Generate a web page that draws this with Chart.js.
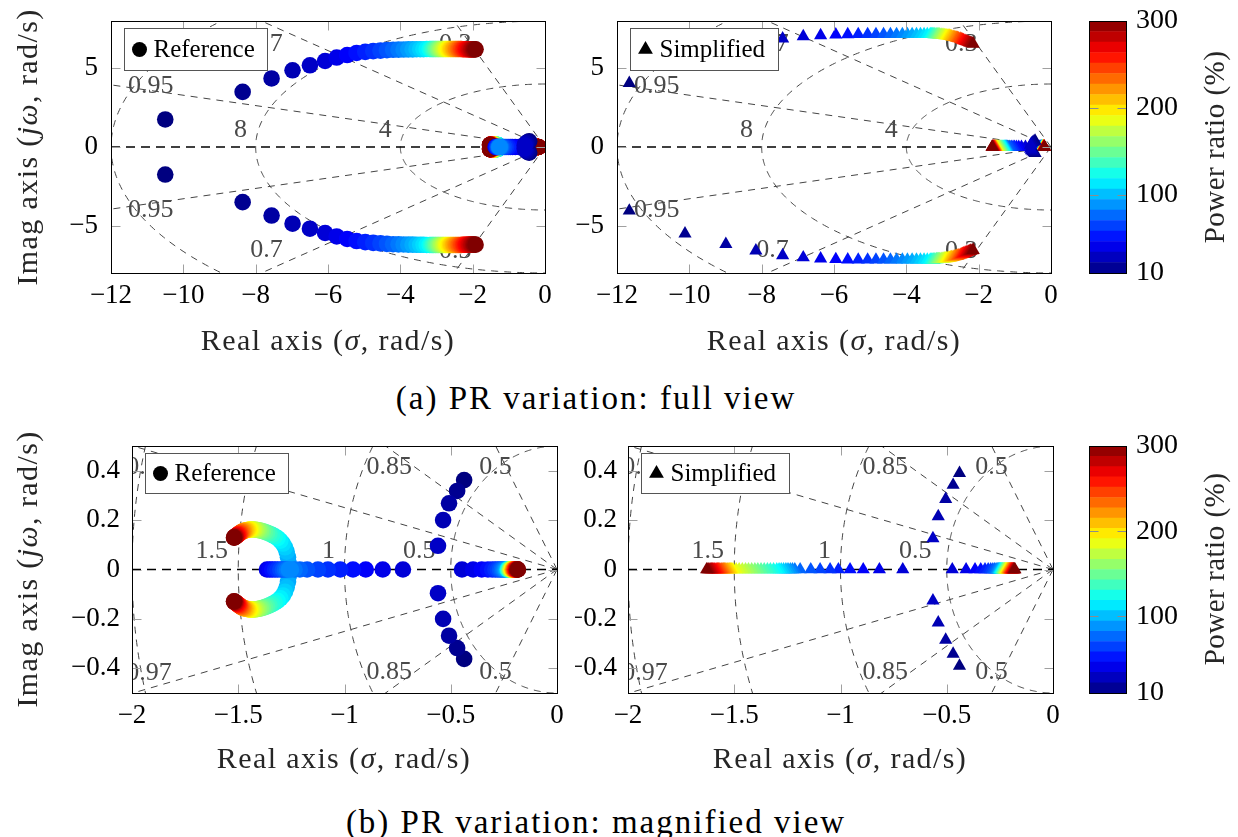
<!DOCTYPE html>
<html>
<head>
<meta charset="utf-8">
<title>PR variation pole map</title>
<script src="https://cdn.jsdelivr.net/npm/chart.js@4/dist/chart.umd.min.js"></script>
<style>
  html, body { margin: 0; padding: 0; background: #fff; }
  #page { position: relative; width: 1238px; height: 837px; overflow: hidden; font-family: "Liberation Serif", "DejaVu Serif", "Noto Serif", "Times New Roman", Times, serif; }
  #page canvas { position: absolute; }
  .txt { position: absolute; white-space: nowrap; transform: translate(-50%, -50%); color: #262626; font-size: 30px; letter-spacing: 1.4px; line-height: 1; }
  .vert { transform: translate(-50%, -50%) rotate(-90deg); }
  .cb { font-size: 29px; letter-spacing: 0.5px; }
  .cap { color: #000; font-size: 33px; letter-spacing: 2px; }
</style>
</head>
<body>
<div id="page">
  <canvas id="refFull"></canvas>
  <canvas id="simFull"></canvas>
  <canvas id="barFull"></canvas>
  <canvas id="refZoom"></canvas>
  <canvas id="simZoom"></canvas>
  <canvas id="barZoom"></canvas>

  <div class="txt vert" style="left:27px;top:147px">Imag axis (<i>jω</i>, rad/s)</div>
  <div class="txt vert" style="left:27px;top:569px">Imag axis (<i>jω</i>, rad/s)</div>
  <div class="txt" style="left:328px;top:340px">Real axis (<i>σ</i>, rad/s)</div>
  <div class="txt" style="left:834px;top:340px">Real axis (<i>σ</i>, rad/s)</div>
  <div class="txt" style="left:344px;top:758px">Real axis (<i>σ</i>, rad/s)</div>
  <div class="txt" style="left:840px;top:758px">Real axis (<i>σ</i>, rad/s)</div>
  <div class="txt vert cb" style="left:1214px;top:147px">Power ratio (%)</div>
  <div class="txt vert cb" style="left:1214px;top:569px">Power ratio (%)</div>
  <div class="txt cap" style="left:596px;top:398px">(a) PR variation: full view</div>
  <div class="txt cap" style="left:596px;top:822px">(b) PR variation: magnified view</div>
</div>
<script>
// power ratio sweep (%), one pole set per value
const powerRatio = [10, 15, 20, 25, 30, 35, 40, 45, 50, 55, 60, 65, 70, 75, 80, 85, 90, 95, 100, 105,
  110, 115, 120, 125, 130, 135, 140, 145, 150, 155, 160, 165, 170, 175, 180, 185, 190, 195, 200, 205,
  210, 215, 220, 225, 230, 235, 240, 245, 250, 255, 260, 265, 270, 275, 280, 285, 290, 295, 300];

const colorTicks = [10, 100, 200, 300];
const fullXTicks = [-12, -10, -8, -6, -4, -2, 0];
const fullYTicks = [-5, 0, 5];
const zoomXTicks = [-2, -1.5, -1, -0.5, 0];
const zoomYTicks = [-0.4, -0.2, 0, 0.2, 0.4];

// reference model: upper half of each complex pair (lower half is the conjugate)
const refFarRe = [-10.5, -8.36, -7.56, -6.98, -6.5, -6.08, -5.76, -5.47, -5.21, -4.97, -4.75, -4.55, -4.37, -4.2, -4.05,
  -3.91, -3.78, -3.66, -3.55, -3.45, -3.36, -3.27, -3.19, -3.15, -3.11, -3.08, -3.04, -3.01, -2.97, -2.94, -2.9,
  -2.87, -2.83, -2.8, -2.76, -2.73, -2.69, -2.66, -2.62, -2.59, -2.55, -2.52, -2.48, -2.45, -2.41, -2.38, -2.34,
  -2.31, -2.27, -2.24, -2.2, -2.17, -2.13, -2.1, -2.06, -2.03, -1.99, -1.96, -1.92];
const refFarIm = [1.75, 3.5, 4.35, 4.87, 5.19, 5.46, 5.68, 5.84, 5.97, 6.04, 6.09, 6.12, 6.15, 6.17, 6.18, 6.19,
  6.2, 6.2, 6.21, 6.21, 6.21, 6.22, 6.22, 6.22, 6.22, 6.22, 6.22, 6.22, 6.22, 6.22, 6.22, 6.22, 6.22, 6.22, 6.22,
  6.22, 6.22, 6.22, 6.22, 6.22, 6.22, 6.22, 6.22, 6.22, 6.22, 6.22, 6.22, 6.22, 6.21, 6.21, 6.21, 6.21, 6.21,
  6.2, 6.2, 6.2, 6.2, 6.2, 6.2];
const refLoopRe = [-0.437, -0.47, -0.508, -0.536, -0.56];
const refLoopIm = [0.362, 0.318, 0.268, 0.2, 0.096];
const refArcRe = [-1.262, -1.266, -1.272, -1.28, -1.29, -1.302, -1.315, -1.328, -1.341, -1.353, -1.364, -1.374,
  -1.384, -1.393, -1.402, -1.41, -1.418, -1.425, -1.432, -1.439, -1.445, -1.451, -1.457, -1.462, -1.467, -1.472,
  -1.476, -1.48, -1.484, -1.488, -1.491, -1.494, -1.497, -1.5, -1.503, -1.506, -1.509, -1.511, -1.513, -1.515,
  -1.517, -1.519, -1.52];
const refArcIm = [0.025, 0.05, 0.072, 0.09, 0.105, 0.117, 0.127, 0.134, 0.14, 0.145, 0.149, 0.152, 0.155, 0.157,
  0.159, 0.16, 0.161, 0.162, 0.162, 0.162, 0.162, 0.161, 0.16, 0.159, 0.158, 0.157, 0.155, 0.154, 0.152, 0.15,
  0.148, 0.146, 0.144, 0.142, 0.14, 0.138, 0.136, 0.135, 0.133, 0.132, 0.131, 0.13, 0.129];
// reference model: real poles
const refOuterRe = [-1.365, -1.352, -1.34, -1.327, -1.315, -1.302, -1.29, -1.28, -1.27, -1.262];
const refLeftRe = [-0.725, -0.82, -0.9, -0.96, -1.02, -1.078, -1.125, -1.176, -1.21, -1.235, -1.252];
const refRightRe = [-0.447, -0.395, -0.354, -0.325, -0.305, -0.29, -0.278, -0.268, -0.26, -0.253, -0.247, -0.242,
  -0.238, -0.234, -0.233, -0.232, -0.23, -0.229, -0.228, -0.227, -0.225, -0.224, -0.223, -0.222, -0.22, -0.219,
  -0.218, -0.217, -0.215, -0.214, -0.213, -0.212, -0.21, -0.209, -0.208, -0.207, -0.205, -0.204, -0.203, -0.202,
  -0.2, -0.199, -0.198, -0.197, -0.195, -0.194, -0.193, -0.192, -0.19, -0.189, -0.188, -0.187, -0.185, -0.184];

// simplified model
const simFarRe = [-11.66, -10.12, -8.99, -8.16, -7.42, -6.85, -6.37, -5.95, -5.62, -5.33, -5.07, -4.84, -4.63,
  -4.44, -4.27, -4.11, -3.97, -3.84, -3.72, -3.61, -3.51, -3.42, -3.34, -3.31, -3.27, -3.24, -3.21, -3.17, -3.14,
  -3.11, -3.08, -3.04, -3.01, -2.98, -2.94, -2.91, -2.88, -2.84, -2.81, -2.78, -2.75, -2.71, -2.68, -2.65, -2.61,
  -2.58, -2.55, -2.51, -2.48, -2.45, -2.42, -2.38, -2.35, -2.32, -2.28, -2.25, -2.22, -2.18, -2.15];
const simFarIm = [4.05, 5.5, 6.17, 6.58, 6.88, 7.02, 7.09, 7.13, 7.15, 7.16, 7.16, 7.16, 7.16, 7.16, 7.16, 7.16,
  7.16, 7.16, 7.16, 7.16, 7.16, 7.16, 7.16, 7.16, 7.16, 7.15, 7.15, 7.14, 7.14, 7.13, 7.13, 7.12, 7.11, 7.1, 7.09,
  7.08, 7.07, 7.06, 7.05, 7.03, 7.01, 6.99, 6.97, 6.95, 6.93, 6.91, 6.89, 6.86, 6.83, 6.8, 6.77, 6.74, 6.71, 6.68,
  6.65, 6.62, 6.6, 6.57, 6.55];
const simLoopRe = [-0.44, -0.47, -0.505, -0.54, -0.565];
const simLoopIm = [0.39, 0.342, 0.285, 0.215, 0.126];
const simRightRe = [-0.474, -0.409, -0.367, -0.34, -0.32, -0.305, -0.293, -0.283, -0.275, -0.268, -0.263, -0.259,
  -0.256, -0.253, -0.251, -0.249, -0.247, -0.245, -0.243, -0.241, -0.239, -0.238, -0.236, -0.234, -0.232, -0.23,
  -0.229, -0.227, -0.225, -0.223, -0.221, -0.22, -0.218, -0.216, -0.214, -0.212, -0.211, -0.209, -0.207, -0.205,
  -0.203, -0.202, -0.2, -0.198, -0.196, -0.194, -0.193, -0.191, -0.189, -0.187, -0.185, -0.184, -0.182, -0.179];
const simLeftRe = [-0.707, -0.817, -0.893, -0.955, -1.01, -1.049, -1.096, -1.14, -1.19, -1.215, -1.226, -1.236,
  -1.247, -1.257, -1.268, -1.279, -1.289, -1.3, -1.315, -1.33, -1.344, -1.359, -1.374, -1.389, -1.403, -1.418,
  -1.433, -1.447, -1.462, -1.477, -1.491, -1.506, -1.512, -1.517, -1.523, -1.529, -1.534, -1.54, -1.546, -1.551,
  -1.557, -1.562, -1.568, -1.574, -1.579, -1.585, -1.591, -1.596, -1.602, -1.607, -1.613, -1.619, -1.624, -1.63];

const serif = '"Liberation Serif", "DejaVu Serif", "Noto Serif", "Times New Roman", Times, serif';
Chart.defaults.font.family = serif;

function jet(pr) {
  const t = (pr - colorTicks[0]) / (colorTicks[colorTicks.length - 1] - colorTicks[0]);
  const c = (v) => Math.round(255 * Math.min(1, Math.max(0, v)));
  return `rgb(${c(1.5 - Math.abs(4 * t - 3))},${c(1.5 - Math.abs(4 * t - 2))},${c(1.5 - Math.abs(4 * t - 1))})`;
}

// points of one root-locus branch, starting at the given power ratio
function branch(fromPr, re, im, sign) {
  const i0 = powerRatio.indexOf(fromPr);
  return re.map((r, k) => ({ pr: powerRatio[i0 + k], x: r, y: im ? sign * im[k] : 0 }));
}

const refBranches = [
  branch(10, refFarRe, refFarIm, 1), branch(10, refFarRe, refFarIm, -1),
  branch(10, refLoopRe, refLoopIm, 1), branch(10, refLoopRe, refLoopIm, -1),
  branch(40, refOuterRe), branch(35, refLeftRe),
  branch(90, refArcRe, refArcIm, 1), branch(90, refArcRe, refArcIm, -1),
  branch(35, refRightRe),
];
const simBranches = [
  branch(10, simFarRe, simFarIm, 1), branch(10, simFarRe, simFarIm, -1),
  branch(10, simLoopRe, simLoopIm, 1), branch(10, simLoopRe, simLoopIm, -1),
  branch(35, simLeftRe), branch(35, simRightRe),
];

const minus = (v) => (v < 0 ? '\u2212' + Math.abs(v) : String(v));

function place(canvas, x, y, w, h) {
  canvas.width = w; canvas.height = h;
  canvas.style.left = x + 'px'; canvas.style.top = y + 'px';
  canvas.style.width = w + 'px'; canvas.style.height = h + 'px';
}

function axis(min, max, ticks, pos, size, pad) {
  return {
    type: 'linear', position: pos, min: min, max: max,
    afterBuildTicks: (s) => { s.ticks = ticks.map((v) => ({ value: v })); },
    afterFit: (s) => {
      if (s.isHorizontal()) s.height = size; else s.width = size;
      s.paddingLeft = s.paddingRight = s.paddingTop = s.paddingBottom = 0;
    },
    grid: { display: false, drawTicks: false },
    border: { display: false },
    ticks: { font: { size: 27 }, color: '#000', padding: pad, maxRotation: 0, autoSkip: false, callback: (v) => minus(v) },
  };
}

// damping lines, natural frequency arcs, frame, inner ticks and legend box
const poleGrid = {
  id: 'poleGrid',
  beforeDatasetsDraw(chart, args, o) {
    const { ctx, chartArea: a, scales: { x, y } } = chart;
    const X = (v) => x.getPixelForValue(v), Y = (v) => y.getPixelForValue(v);
    ctx.save();
    ctx.beginPath(); ctx.rect(a.left, a.top, a.width, a.height); ctx.clip();
    ctx.strokeStyle = '#444'; ctx.lineWidth = 1; ctx.setLineDash([7, 6]);
    const far = Math.hypot(x.min, y.max) * 2;
    o.zetas.forEach((z) => [1, -1].forEach((s) => {
      ctx.beginPath();
      ctx.moveTo(X(0), Y(0));
      ctx.lineTo(X(-z * far), Y(s * Math.sqrt(1 - z * z) * far));
      ctx.stroke();
    }));
    o.omegas.forEach((w) => {
      ctx.beginPath();
      for (let k = 0; k <= 360; k++) {
        const th = Math.PI / 2 + k * Math.PI / 360;
        const px = X(w * Math.cos(th)), py = Y(w * Math.sin(th));
        if (k) ctx.lineTo(px, py); else ctx.moveTo(px, py);
      }
      ctx.stroke();
    });
    ctx.strokeStyle = '#000'; ctx.lineWidth = 1.7; ctx.setLineDash([9, 6]);
    ctx.beginPath(); ctx.moveTo(a.left, Y(0)); ctx.lineTo(X(0), Y(0)); ctx.stroke();
    ctx.setLineDash([]);
    ctx.fillStyle = '#4a4a4a';
    ctx.font = '26px ' + serif;
    ctx.textAlign = 'center'; ctx.textBaseline = 'middle';
    o.labels.forEach(([t, re, im]) => ctx.fillText(t, X(re), Y(im)));
    ctx.restore();
  },
  afterDatasetsDraw(chart, args, o) {
    const { ctx, chartArea: a, scales: { x, y } } = chart;
    const L = Math.round(a.left) + 0.5, R = Math.round(a.right) + 0.5;
    const T = Math.round(a.top) + 0.5, B = Math.round(a.bottom) + 0.5;
    const seg = (x1, y1, x2, y2) => { ctx.beginPath(); ctx.moveTo(x1, y1); ctx.lineTo(x2, y2); ctx.stroke(); };
    ctx.save();
    ctx.strokeStyle = '#a0a0a0'; ctx.lineWidth = 1;
    x.ticks.forEach((t) => {
      if (t.value <= x.min || t.value >= x.max) return;
      const px = Math.round(x.getPixelForValue(t.value)) + 0.5;
      seg(px, B, px, B - 9); seg(px, T, px, T + 9);
    });
    y.ticks.forEach((t) => {
      if (t.value <= y.min || t.value >= y.max) return;
      const py = Math.round(y.getPixelForValue(t.value)) + 0.5;
      seg(L, py, L + 9, py); seg(R, py, R - 9, py);
    });
    ctx.strokeStyle = '#000';
    ctx.strokeRect(L, T, R - L, B - T);

    const lg = o.legend;
    ctx.font = '25px ' + serif;
    const tw = ctx.measureText(lg.text).width;
    const bx = L + 13, by = T + 7, bw = Math.round(29 + tw + 13), bh = lg.height;
    ctx.fillStyle = '#fff'; ctx.fillRect(bx, by, bw, bh);
    ctx.strokeStyle = '#555'; ctx.strokeRect(bx, by, bw, bh);
    ctx.fillStyle = '#000';
    const mx = bx + 15, my = by + bh / 2;
    ctx.beginPath();
    if (lg.marker === 'circle') {
      ctx.arc(mx, my, 7.5, 0, Math.PI * 2);
    } else {
      ctx.moveTo(mx, my - 8.5); ctx.lineTo(mx + 7.4, my + 4.3); ctx.lineTo(mx - 7.4, my + 4.3); ctx.closePath();
    }
    ctx.fill();
    ctx.textAlign = 'left'; ctx.textBaseline = 'middle';
    ctx.fillText(lg.text, bx + 29, my + 1);
    ctx.restore();
  },
};

const fullGrid = {
  zetas: [0.3, 0.7, 0.95], omegas: [4, 8, 12],
  labels: [['0.95', -10.9, 3.86], ['0.95', -10.9, -4.0], ['0.7', -7.7, 6.55], ['0.7', -7.7, -6.55],
    ['0.3', -2.48, 6.55], ['0.3', -2.48, -6.6], ['8', -8.42, 1.1], ['4', -4.42, 1.1]],
};
const zoomGrid = {
  zetas: [0.5, 0.85, 0.97], omegas: [0.5, 1, 1.5, 2],
  labels: [['0.97', -1.92, 0.415], ['0.97', -1.92, -0.42], ['0.85', -0.79, 0.415], ['0.85', -0.79, -0.415],
    ['0.5', -0.29, 0.415], ['0.5', -0.29, -0.415], ['1.5', -1.625, 0.075], ['1', -1.075, 0.075], ['0.5', -0.648, 0.075]],
};

function polePlot(id, frame, branches, marker, xr, yr, grid, legendText, legendH) {
  const canvas = document.getElementById(id);
  place(canvas, frame.x, frame.y, frame.w, frame.h);
  const round = marker === 'circle';
  return new Chart(canvas, {
    type: 'scatter',
    data: {
      datasets: branches.map((b) => ({
        data: b.map((p) => ({ x: p.x, y: p.y })),
        pointBackgroundColor: b.map((p) => jet(p.pr)),
        pointBorderWidth: 0,
        pointRadius: round ? 8.3 : 7.6,
        pointStyle: round ? 'circle' : 'triangle',
        showLine: false,
        clip: 0,
      })),
    },
    options: {
      responsive: false, animation: false, events: [],
      layout: { padding: { top: frame.top, right: frame.right, left: 0, bottom: 0 } },
      plugins: {
        legend: { display: false }, tooltip: { enabled: false },
        poleGrid: Object.assign({ legend: { text: legendText, marker: marker, height: legendH } }, grid),
      },
      scales: {
        x: axis(xr[0], xr[1], xr[2], 'bottom', 57, 7),
        y: axis(yr[0], yr[1], yr[2], 'left', frame.yw, frame.ypad),
      },
    },
    plugins: [poleGrid],
  });
}

const barFrame = {
  id: 'barFrame',
  afterDatasetsDraw(chart) {
    const { ctx, chartArea: a, scales: { y } } = chart;
    const L = Math.round(a.left) + 0.5, R = Math.round(a.right) + 0.5;
    const T = Math.round(a.top) + 0.5, B = Math.round(a.bottom) + 0.5;
    ctx.save();
    ctx.strokeStyle = '#8c8c8c'; ctx.lineWidth = 1;
    y.ticks.forEach((t) => {
      if (t.value <= y.min || t.value >= y.max) return;
      const py = Math.round(y.getPixelForValue(t.value)) + 0.5;
      ctx.beginPath(); ctx.moveTo(L, py); ctx.lineTo(L + 9, py); ctx.moveTo(R, py); ctx.lineTo(R - 9, py); ctx.stroke();
    });
    ctx.strokeStyle = '#000';
    ctx.strokeRect(L, T, R - L, B - T);
    ctx.restore();
  },
};

function colorBar(id, top) {
  const canvas = document.getElementById(id);
  place(canvas, 1070, top, 168, 330);
  const lo = colorTicks[0], hi = colorTicks[colorTicks.length - 1], n = 24;
  const bands = [];
  for (let k = 0; k < n; k++) bands.push([lo + (hi - lo) * k / n, lo + (hi - lo) * (k + 1) / n]);
  return new Chart(canvas, {
    type: 'bar',
    data: {
      labels: [''],
      datasets: bands.map((b) => ({
        data: [b], backgroundColor: jet((b[0] + b[1]) / 2), borderWidth: 0,
        barPercentage: 1, categoryPercentage: 1, grouped: false,
      })),
    },
    options: {
      responsive: false, animation: false, events: [],
      layout: { padding: { left: 19, top: top === 0 ? 21 : 26, right: 0, bottom: 57 } },
      plugins: { legend: { display: false }, tooltip: { enabled: false } },
      scales: {
        x: { display: false },
        y: {
          type: 'linear', position: 'right', min: lo, max: hi,
          afterBuildTicks: (s) => { s.ticks = colorTicks.map((v) => ({ value: v })); },
          afterFit: (s) => { s.width = 112; s.paddingTop = s.paddingBottom = 0; },
          grid: { display: false, drawTicks: false }, border: { display: false },
          ticks: { font: { size: 28 }, color: '#000', padding: 10 },
        },
      },
    },
    plugins: [barFrame],
  });
}

polePlot('refFull', { x: 0, y: 0, w: 560, h: 330, top: 21, right: 15, yw: 111, ypad: 13 },
  refBranches, 'circle', [-12, 0, fullXTicks], [-8, 8, fullYTicks], fullGrid, 'Reference', 42);
polePlot('simFull', { x: 560, y: 0, w: 510, h: 330, top: 21, right: 19, yw: 57, ypad: 13 },
  simBranches, 'triangle', [-12, 0, fullXTicks], [-8, 8, fullYTicks], fullGrid, 'Simplified', 42);
colorBar('barFull', 0);
polePlot('refZoom', { x: 0, y: 420, w: 575, h: 330, top: 26, right: 18, yw: 132, ypad: 12 },
  refBranches, 'circle', [-2, 0, zoomXTicks], [-0.5, 0.5, zoomYTicks], zoomGrid, 'Reference', 40);
polePlot('simZoom', { x: 575, y: 420, w: 495, h: 330, top: 26, right: 17, yw: 53, ypad: 11 },
  simBranches, 'triangle', [-2, 0, zoomXTicks], [-0.5, 0.5, zoomYTicks], zoomGrid, 'Simplified', 40);
colorBar('barZoom', 420);
</script>
</body>
</html>
